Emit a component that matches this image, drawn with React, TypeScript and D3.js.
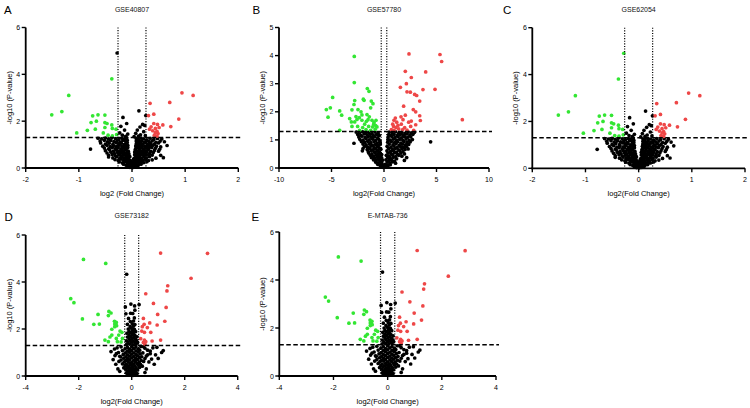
import React from "react";
import * as d3 from "d3";

type P = [number, number];

// ---------- GSE40807 / GSE62054 (A, C) ----------
const acGreen: P[] = [[-1.19,3.1],[-1.51,2.27],[-1.32,2.41],[-1.04,1.5],[-0.38,3.81],[-0.74,2.23],[-0.64,2.27],[-0.51,2.26],[-0.77,1.94],[-0.67,2.0],[-0.51,1.94],[-0.47,1.9],[-0.84,1.61],[-0.69,1.66],[-0.51,1.73],[-0.38,1.84],[-0.37,1.69],[-0.3,1.66],[-0.54,1.5],[-0.45,1.4],[-0.37,1.37],[-0.29,1.43]];
const acRed: P[] = [[0.94,3.21],[1.15,3.1],[0.71,2.8],[0.34,2.76],[0.88,2.09],[0.31,2.24],[0.41,2.3],[0.73,1.77],[0.41,1.9],[0.48,1.86],[0.58,1.84],[0.36,1.76],[0.44,1.69],[0.51,1.73],[0.33,1.66],[0.47,1.57],[0.44,1.51],[0.49,1.47],[0.42,1.4],[0.47,1.36],[0.39,1.59]];
// point that is black in A and green in C
const acTopPoint: P[] = [[-0.28,4.91]];
const acBlack: P[] = [
[-0.64,1.27],[-0.57,1.25],[-0.5,1.28],[-0.44,1.24],[-0.38,1.29],[-0.31,1.26],[-0.25,1.22],[-0.19,1.27],[-0.14,1.24],[-0.1,1.29],[0.08,1.26],[0.12,1.22],[0.17,1.28],[0.22,1.25],[0.28,1.2],[0.34,1.27],[0.41,1.22],[0.48,1.26],[0.56,1.24],
[-0.6,1.15],[-0.52,1.18],[-0.46,1.12],[-0.4,1.17],[-0.34,1.13],[-0.28,1.16],[-0.22,1.11],[-0.17,1.18],[-0.12,1.14],[-0.09,1.19],[0.08,1.15],[0.1,1.18],[0.14,1.12],[0.18,1.16],[0.23,1.11],[0.27,1.17],[0.32,1.13],[0.38,1.16],[0.45,1.1],[0.53,1.15],[0.61,1.12],
[-0.59,1.07],[-0.5,1.02],[-0.43,1.06],[-0.36,1.01],[-0.3,1.08],[-0.25,1.03],[-0.2,1.06],[-0.15,1.0],[-0.11,1.05],[-0.09,1.09],[0.08,1.03],[0.09,1.07],[0.13,1.01],[0.16,1.06],[0.21,1.03],[0.26,1.08],[0.3,1.0],[0.35,1.05],[0.42,1.02],[0.5,1.07],[0.66,0.96],
[-0.55,0.93],[-0.47,0.97],[-0.41,0.91],[-0.35,0.95],[-0.29,0.92],[-0.24,0.98],[-0.19,0.91],[-0.14,0.95],[-0.1,0.92],[-0.08,0.97],[0.07,0.94],[0.08,0.91],[0.11,0.97],[0.15,0.92],[0.19,0.96],[0.24,0.91],[0.28,0.95],[0.33,0.92],[0.39,0.97],[0.46,0.93],[0.54,0.9],
[-0.78,0.81],[-0.52,0.85],[-0.44,0.82],[-0.37,0.88],[-0.31,0.83],[-0.26,0.87],[-0.21,0.81],[-0.16,0.86],[-0.12,0.82],[-0.08,0.88],[0.07,0.82],[0.1,0.88],[0.14,0.83],[0.18,0.87],[0.22,0.81],[0.27,0.86],[0.31,0.82],[0.37,0.88],[0.44,0.84],[0.52,0.8],
[-0.5,0.74],[-0.42,0.78],[-0.35,0.72],[-0.29,0.76],[-0.24,0.71],[-0.19,0.77],[-0.15,0.73],[-0.11,0.78],[-0.07,0.72],[0.06,0.78],[0.09,0.71],[0.13,0.76],[0.17,0.72],[0.21,0.77],[0.25,0.73],[0.3,0.78],[0.35,0.71],[0.42,0.75],[0.5,0.72],
[-0.47,0.64],[-0.4,0.68],[-0.33,0.62],[-0.27,0.66],[-0.22,0.61],[-0.18,0.67],[-0.13,0.63],[-0.09,0.68],[-0.06,0.62],[0.05,0.68],[0.08,0.62],[0.12,0.66],[0.16,0.61],[0.2,0.67],[0.24,0.63],[0.28,0.68],[0.33,0.62],[0.4,0.66],
[-0.44,0.54],[-0.37,0.58],[-0.31,0.52],[-0.25,0.56],[-0.2,0.51],[-0.16,0.57],[-0.12,0.53],[-0.08,0.58],[-0.05,0.52],[0.05,0.57],[0.08,0.51],[0.11,0.56],[0.15,0.52],[0.19,0.58],[0.23,0.53],[0.27,0.57],[0.32,0.51],[0.38,0.55],[0.54,0.54],
[-0.44,0.47],[-0.36,0.43],[-0.29,0.48],[-0.23,0.42],[-0.18,0.46],[-0.14,0.41],[-0.1,0.47],[-0.07,0.43],[-0.04,0.48],[0.04,0.41],[0.07,0.47],[0.1,0.42],[0.14,0.46],[0.18,0.41],[0.22,0.47],[0.27,0.43],[0.33,0.48],[0.59,0.44],[0.45,0.42],
[-0.32,0.36],[-0.26,0.32],[-0.21,0.38],[-0.16,0.33],[-0.12,0.37],[-0.09,0.31],[-0.06,0.36],[-0.03,0.32],[0.03,0.37],[0.06,0.31],[0.09,0.36],[0.12,0.32],[0.16,0.38],[0.2,0.33],[0.25,0.37],[0.31,0.32],[0.38,0.35],
[-0.24,0.26],[-0.18,0.22],[-0.13,0.27],[-0.09,0.23],[-0.06,0.28],[-0.03,0.22],[-0.01,0.26],[0.01,0.21],[0.03,0.27],[0.06,0.23],[0.09,0.28],[0.13,0.22],[0.17,0.26],[0.22,0.23],[0.28,0.27],
[-0.16,0.16],[-0.11,0.12],[-0.07,0.17],[-0.04,0.13],[-0.02,0.18],[0,0.11],[0.02,0.16],[0.05,0.12],[0.08,0.17],[0.12,0.13],[0.17,0.16],
[-0.08,0.06],[-0.04,0.03],[-0.01,0.07],[0.01,0.02],[0.03,0.06],[0.06,0.04],[0.1,0.07],
[-0.17,2.16],[-0.1,1.9],[-0.21,1.78],[-0.14,1.62],[-0.23,1.5],[-0.08,1.45],[-0.18,1.4],[-0.12,1.35],[0.13,2.44],[0.26,2.24],[0.2,1.86],[0.24,1.82],[0.15,1.75],[0.1,1.62],[0.22,1.55],[0.07,1.48],[0.16,1.42],[0.12,1.36],[0.25,1.38],[0.04,1.34]
];

// ---------- GSE57780 (B) ----------
const bGreen: P[] = [[-2.83,3.97],[-2.83,3.04],[-4.89,2.51],[-5.49,2.08],[-5.11,2.14],[-5.33,1.81],[-4.22,2.03],[-4.03,1.88],[-4.22,1.34],[-1.59,2.83],[-1.43,2.73],[-1.97,2.45],[-1.9,2.41],[-2.79,2.4],[-2.86,2.26],[-3.05,2.07],[-2.48,2.08],[-2.19,2.0],[-1.21,2.38],[-1.05,2.29],[-1.27,2.14],[-2.1,1.89],[-1.62,1.9],[-1.4,1.82],[-2.35,1.79],[-2.67,1.83],[-3.27,1.76],[-3.11,1.64],[-2.79,1.64],[-2.1,1.7],[-1.68,1.66],[-1.14,1.7],[-0.95,1.62],[-0.76,1.7],[-3.05,1.48],[-2.51,1.48],[-2.03,1.44],[-1.46,1.48],[-1.08,1.46],[-0.79,1.51],[-2.32,1.34],[-1.71,1.37],[-1.27,1.34],[-0.83,1.38],[-0.67,1.46],[-0.98,1.56],[-1.52,1.72],[-1.84,1.56],[-2.57,1.73]];
const bRed: P[] = [[2.38,4.06],[5.33,4.04],[5.49,3.79],[2.03,3.44],[3.97,3.42],[2.6,3.22],[2.13,3.0],[1.56,2.87],[4.86,2.8],[2.19,2.71],[2.51,2.7],[2.92,2.62],[3.11,2.58],[3.71,2.79],[3.4,2.38],[1.87,2.2],[2.79,2.08],[3.02,2.0],[3.4,1.86],[3.46,1.69],[7.46,1.72],[2.03,1.88],[1.62,1.82],[1.81,1.72],[2.35,1.63],[2.6,1.67],[3.02,1.54],[1.08,1.78],[1.21,1.63],[0.95,1.7],[1.33,1.52],[1.65,1.56],[1.97,1.44],[0.92,1.48],[1.14,1.44],[1.4,1.39],[1.78,1.37],[2.19,1.35],[0.95,1.34],[0.7,1.37],[0.83,1.56],[2.83,1.34],[2.54,1.48]];
const bBlack: P[] = [
[-2.65,1.28],[-2.35,1.25],[-2.05,1.29],[-1.75,1.24],[-1.45,1.27],[-1.15,1.23],[-0.85,1.28],[-0.55,1.25],
[-2.5,1.19],[-2.2,1.16],[-1.9,1.21],[-1.6,1.17],[-1.3,1.2],[-1.0,1.15],[-0.7,1.19],[-0.45,1.16],
[-2.4,1.1],[-2.1,1.13],[-1.8,1.08],[-1.5,1.12],[-1.2,1.09],[-0.9,1.11],[-0.6,1.07],
[-2.3,1.02],[-2.0,0.99],[-1.7,1.04],[-1.4,1.0],[-1.1,1.03],[-0.8,0.98],[-0.5,1.02],[-0.38,0.96],
[-2.15,0.94],[-1.85,0.91],[-1.55,0.95],[-1.25,0.9],[-0.95,0.93],[-0.65,0.89],[-0.4,0.92],
[-2.86,0.88],[-2.0,0.85],[-1.7,0.82],[-1.4,0.86],[-1.1,0.81],[-0.8,0.84],[-0.55,0.8],[-0.35,0.85],
[-1.85,0.77],[-1.55,0.74],[-1.25,0.78],[-0.95,0.73],[-0.65,0.76],[-0.45,0.72],
[-2.0,0.69],[-1.6,0.66],[-1.35,0.7],[-1.05,0.65],[-0.8,0.68],[-0.55,0.64],[-0.3,0.67],
[-2.06,0.61],[-1.5,0.58],[-1.2,0.62],[-0.9,0.57],[-0.65,0.6],[-0.42,0.56],
[-1.45,0.53],[-1.15,0.5],[-0.85,0.54],[-0.6,0.49],[-0.35,0.52],[-0.22,0.48],
[-1.3,0.45],[-1.0,0.42],[-0.75,0.46],[-0.5,0.41],[-0.3,0.44],
[-1.2,0.37],[-0.9,0.34],[-0.65,0.38],[-0.42,0.33],[-0.22,0.36],
[-1.0,0.29],[-0.75,0.26],[-0.5,0.3],[-0.3,0.25],[-0.15,0.28],
[-0.8,0.21],[-0.55,0.18],[-0.35,0.22],[-0.2,0.17],
[-0.6,0.13],[-0.38,0.1],[-0.2,0.12],[-0.1,0.08],
[-0.3,0.05],[-0.15,0.03],[-0.05,0.02],
[0.5,1.28],[0.8,1.25],[1.1,1.29],[1.4,1.24],[1.7,1.27],[2.0,1.23],[2.3,1.28],[2.6,1.25],[2.9,1.27],
[0.45,1.19],[0.65,1.16],[0.95,1.2],[1.25,1.15],[1.55,1.19],[1.85,1.16],[2.15,1.21],[2.45,1.17],[2.75,1.2],
[0.4,1.1],[0.75,1.12],[1.05,1.08],[1.35,1.11],[1.65,1.07],[1.95,1.12],[2.25,1.09],[2.55,1.11],
[0.38,1.02],[0.6,0.99],[0.9,1.03],[1.2,0.98],[1.5,1.02],[1.8,0.99],[2.1,1.03],[2.4,0.98],[2.7,1.01],
[4.44,0.93],[0.35,0.92],[0.7,0.94],[1.0,0.9],[1.3,0.93],[1.6,0.89],[1.9,0.94],[2.2,0.91],[2.5,0.93],
[0.5,0.85],[0.85,0.82],[1.15,0.86],[1.45,0.81],[1.75,0.85],[2.05,0.82],[2.35,0.84],
[0.3,0.77],[0.65,0.74],[0.95,0.78],[1.25,0.73],[1.55,0.77],[1.85,0.74],[2.15,0.76],
[0.45,0.69],[0.8,0.66],[1.1,0.7],[1.4,0.65],[1.7,0.69],[2.0,0.66],[2.3,0.68],
[0.28,0.61],[0.6,0.58],[0.9,0.62],[1.2,0.57],[1.5,0.61],[1.8,0.58],
[0.4,0.53],[0.7,0.5],[1.0,0.54],[1.3,0.49],[1.6,0.53],[1.95,0.5],
[0.22,0.45],[0.5,0.42],[0.8,0.46],[1.1,0.41],[1.4,0.45],[1.7,0.42],
[0.35,0.37],[0.6,0.34],[0.9,0.38],[1.2,0.33],[2.16,0.37],
[0.18,0.29],[0.45,0.26],[0.7,0.3],[1.0,0.25],[1.94,0.27],
[0.3,0.21],[0.55,0.18],[0.8,0.22],[1.1,0.17],
[0.12,0.13],[0.35,0.1],[0.6,0.12],
[0.05,0.05],[0.2,0.03],[0.35,0.06]
];

// ---------- GSE73182 / E-MTAB-736 (D, E) ----------
const deGreen: P[] = [[-1.82,4.96],[-0.98,4.79],[-2.3,3.29],[-2.18,3.12],[-1.86,2.43],[-1.27,2.62],[-1.43,2.2],[-1.22,2.21],[-0.86,2.75],[-0.78,2.68],[-0.88,2.57],[-0.65,2.33],[-0.58,2.28],[-0.64,2.21],[-0.57,2.14],[-0.64,2.1],[-0.44,1.91],[-0.37,1.86],[-0.75,1.99],[-0.75,1.74],[-0.82,1.66],[-0.49,1.74],[-0.58,1.6],[-1.01,1.53],[-0.88,1.46],[-0.54,1.46],[-0.4,1.45],[-0.35,1.6]];
const deRed: P[] = [[1.09,5.23],[2.86,5.22],[2.24,4.16],[1.36,3.84],[1.33,3.62],[0.53,3.5],[0.82,3.09],[1.3,2.92],[0.98,2.62],[1.25,2.33],[0.44,2.45],[0.47,2.2],[0.4,2.1],[0.68,2.26],[0.96,2.17],[0.59,2.06],[0.38,1.91],[0.48,1.86],[0.72,1.86],[0.34,1.59],[0.48,1.53],[0.77,1.49],[1.09,1.53],[0.44,1.43],[0.53,1.46],[0.5,1.35]];
const deBlack: P[] = [
[-0.15,0.04],[-0.05,0.07],[0.05,0.03],[0.15,0.06],
[-0.2,0.13],[-0.1,0.11],[0,0.14],[0.1,0.12],[0.2,0.1],
[-0.15,0.2],[-0.05,0.22],[0.05,0.19],[0.15,0.21],
[-0.22,0.29],[-0.1,0.27],[0,0.3],[0.1,0.28],[0.22,0.26],
[-0.3,0.35],[-0.17,0.37],[-0.05,0.34],[0.05,0.38],[0.17,0.35],[0.3,0.37],
[-0.25,0.44],[-0.12,0.42],[0,0.45],[0.12,0.43],[0.25,0.46],[0.4,0.42],
[-0.35,0.52],[-0.2,0.5],[-0.07,0.53],[0.07,0.51],[0.2,0.54],[0.33,0.5],
[-0.28,0.6],[-0.14,0.62],[0,0.59],[0.14,0.61],[0.28,0.58],[0.45,0.62],
[-0.4,0.68],[-0.22,0.66],[-0.08,0.69],[0.08,0.67],[0.22,0.7],[0.36,0.66],
[-0.3,0.76],[-0.15,0.74],[0,0.77],[0.15,0.75],[0.3,0.78],[0.5,0.74],
[-0.45,0.84],[-0.22,0.82],[-0.08,0.85],[0.08,0.83],[0.22,0.86],[0.38,0.82],
[-0.32,0.92],[-0.16,0.9],[0,0.93],[0.16,0.91],[0.32,0.94],[0.6,0.9],
[-0.5,1.0],[-0.24,0.98],[-0.08,1.01],[0.08,0.99],[0.24,1.02],[0.42,0.98],
[-0.35,1.08],[-0.16,1.06],[0,1.09],[0.16,1.07],[0.3,1.1],[0.7,1.06],
[-0.25,1.16],[-0.08,1.14],[0.08,1.17],[0.25,1.15],[0.5,1.18],
[-0.4,1.24],[-0.16,1.22],[0,1.25],[0.16,1.23],[0.35,1.26],
[-0.2,1.34],[-0.08,1.36],[0.04,1.33],[0.16,1.35],
[-0.14,1.42],[0,1.44],[0.12,1.41],[0.22,1.43],
[-0.2,1.5],[-0.06,1.52],[0.06,1.49],[0.18,1.51],
[-0.1,1.58],[0.02,1.6],[0.14,1.57],
[-0.16,1.66],[-0.04,1.68],[0.08,1.65],[0.2,1.67],
[-0.1,1.74],[0.02,1.76],[0.12,1.73],
[-0.18,1.82],[-0.05,1.84],[0.06,1.81],
[-0.1,1.9],[0.03,1.92],[0.15,1.89],
[-0.13,2.0],[0,2.02],[0.1,1.99],
[-0.06,2.1],[0.06,2.12],
[-0.16,2.2],[0.02,2.22],[0.12,2.19],
[-0.05,2.32],[0.07,2.34],
[-0.12,2.45],[0.1,2.47],
[-0.22,2.65],[-0.04,2.67],[0.04,2.66],
[0.12,2.8],
[-0.24,2.94],[0.11,2.98],
[-0.03,3.06],[0.28,3.04],
[-0.19,4.33],
[-0.78,1.04],[-0.63,0.87],[-0.7,0.7],[-0.55,1.2],[-0.6,0.5],[-0.52,0.3],[-0.65,1.15],[-0.48,0.62],[-0.45,0.2],[-0.58,0.95],[-0.42,0.82],
[1.19,1.08],[1.13,1.0],[0.9,0.9],[0.8,1.2],[0.95,1.22],[0.7,0.95],[0.65,0.6],[0.75,0.72],[0.55,0.3],[0.85,0.5],[0.6,1.1],[1.0,0.75],[0.55,0.85],[0.5,0.15],[0.45,1.25]
];

// ---------- axis ticks ----------
const ticksX2 = [-2, -1, 0, 1, 2];
const ticksX10 = [-10, -5, 0, 5, 10];
const ticksX4 = [-4, -2, 0, 2, 4];
const ticksY6 = [0, 2, 4, 6];
const ticksY5 = [0, 1, 2, 3, 4, 5];
const pThreshold = 1.301;
const fcCut = 0.263;

const GREEN = "#33e633";
const RED = "#ee4747";
const FONT = "Arial, 'Liberation Sans', Helvetica, sans-serif";

interface PanelCfg {
  letter: string; title: string; xLabel: string;
  left: number; right: number; top: number; bottom: number;
  xDom: [number, number]; yDom: [number, number];
  xTicks: number[]; yTicks: number[];
  black: P[]; green: P[]; red: P[];
  letterX: number; letterY: number; titleY: number;
}

const panels: PanelCfg[] = [
  { letter: "A", title: "GSE40807", xLabel: "log2 (Fold Change)", left: 25.7, right: 238.3, top: 27.5, bottom: 168, xDom: [-2, 2], yDom: [0, 6], xTicks: ticksX2, yTicks: ticksY6, black: [...acBlack, ...acTopPoint], green: acGreen, red: acRed, letterX: 4, letterY: 13.5, titleY: 11.5 },
  { letter: "B", title: "GSE57780", xLabel: "log2(Fold Change)", left: 279, right: 489, top: 27.5, bottom: 168, xDom: [-10, 10], yDom: [0, 5], xTicks: ticksX10, yTicks: ticksY5, black: bBlack, green: bGreen, red: bRed, letterX: 252.5, letterY: 13.5, titleY: 11.5 },
  { letter: "C", title: "GSE62054", xLabel: "log2(Fold Change)", left: 532.3, right: 745, top: 27.7, bottom: 168.3, xDom: [-2, 2], yDom: [0, 6], xTicks: ticksX2, yTicks: ticksY6, black: acBlack, green: [...acGreen, ...acTopPoint], red: acRed, letterX: 503, letterY: 13.5, titleY: 11.5 },
  { letter: "D", title: "GSE73182", xLabel: "log2(Fold Change)", left: 25.7, right: 237.7, top: 235, bottom: 376, xDom: [-4, 4], yDom: [0, 6], xTicks: ticksX4, yTicks: ticksY6, black: deBlack, green: deGreen, red: deRed, letterX: 4.5, letterY: 220.5, titleY: 217.5 },
  { letter: "E", title: "E-MTAB-736", xLabel: "log2(Fold Change)", left: 279.3, right: 496, top: 232, bottom: 376, xDom: [-4, 4], yDom: [0, 6], xTicks: ticksX4, yTicks: ticksY6, black: deBlack, green: deGreen, red: deRed, letterX: 251.5, letterY: 220.5, titleY: 217.5 },
];

const R = 1.85;

function Panel({ c }: { c: PanelCfg }) {
  const x = d3.scaleLinear().domain(c.xDom).range([c.left, c.right]);
  const y = d3.scaleLinear().domain(c.yDom).range([c.bottom, c.top]);
  const midX = (c.left + c.right) / 2;
  const midY = (c.top + c.bottom) / 2;
  const yThr = y(pThreshold);
  return (
    <g>
      <text x={c.letterX} y={c.letterY} fontSize={11.5} fontFamily={FONT} fill="#000">{c.letter}</text>
      <text x={midX} y={c.titleY} fontSize={7} fontFamily={FONT} textAnchor="middle" fill="#111">{c.title}</text>
      {c.black.map((d, i) => <circle key={"k" + i} cx={x(d[0])} cy={y(d[1])} r={R} fill="#000" />)}
      {c.green.map((d, i) => <circle key={"g" + i} cx={x(d[0])} cy={y(d[1])} r={R} fill={GREEN} />)}
      {c.red.map((d, i) => <circle key={"r" + i} cx={x(d[0])} cy={y(d[1])} r={R} fill={RED} />)}
      {[-fcCut, fcCut].map((v) => (
        <line key={v} x1={x(v)} x2={x(v)} y1={c.top} y2={c.bottom} stroke="#000" strokeWidth={1.2} strokeDasharray="1.1 1.5" />
      ))}
      <line x1={c.left} x2={c.right + 3} y1={yThr} y2={yThr} stroke="#000" strokeWidth={1.6} strokeDasharray="4.5 2.5" />
      <line x1={c.left} x2={c.left} y1={c.top} y2={c.bottom + 1} stroke="#000" strokeWidth={1.8} />
      <line x1={c.left - 1} x2={c.right} y1={c.bottom} y2={c.bottom} stroke="#000" strokeWidth={1.8} />
      {c.yTicks.map((t) => (
        <g key={"yt" + t}>
          <line x1={c.left - 4} x2={c.left} y1={y(t)} y2={y(t)} stroke="#000" strokeWidth={1.4} />
          <text x={c.left - 5.5} y={y(t) + 2.5} fontSize={7} fontFamily={FONT} textAnchor="end" fill="#000">{t}</text>
        </g>
      ))}
      {c.xTicks.map((t) => (
        <g key={"xt" + t}>
          <line x1={x(t)} x2={x(t)} y1={c.bottom} y2={c.bottom + 4} stroke="#000" strokeWidth={1.4} />
          <text x={x(t)} y={c.bottom + 13.5} fontSize={7} fontFamily={FONT} textAnchor="middle" fill="#000">{t}</text>
        </g>
      ))}
      <text x={midX} y={c.bottom + 27.5} fontSize={7.5} fontFamily={FONT} textAnchor="middle" fill="#000">{c.xLabel}</text>
      <text transform={`translate(${c.left - 14},${midY}) rotate(-90)`} fontSize={7.5} fontFamily={FONT} textAnchor="middle" fill="#000">-log10 (P-value)</text>
    </g>
  );
}

export default function App() {
  return (
    <svg width={750} height={408} style={{ position: "absolute", left: 0, top: 0, background: "#fff" }}>
      <rect width={750} height={408} fill="#fff" />
      {panels.map((c) => <Panel key={c.letter} c={c} />)}
    </svg>
  );
}
